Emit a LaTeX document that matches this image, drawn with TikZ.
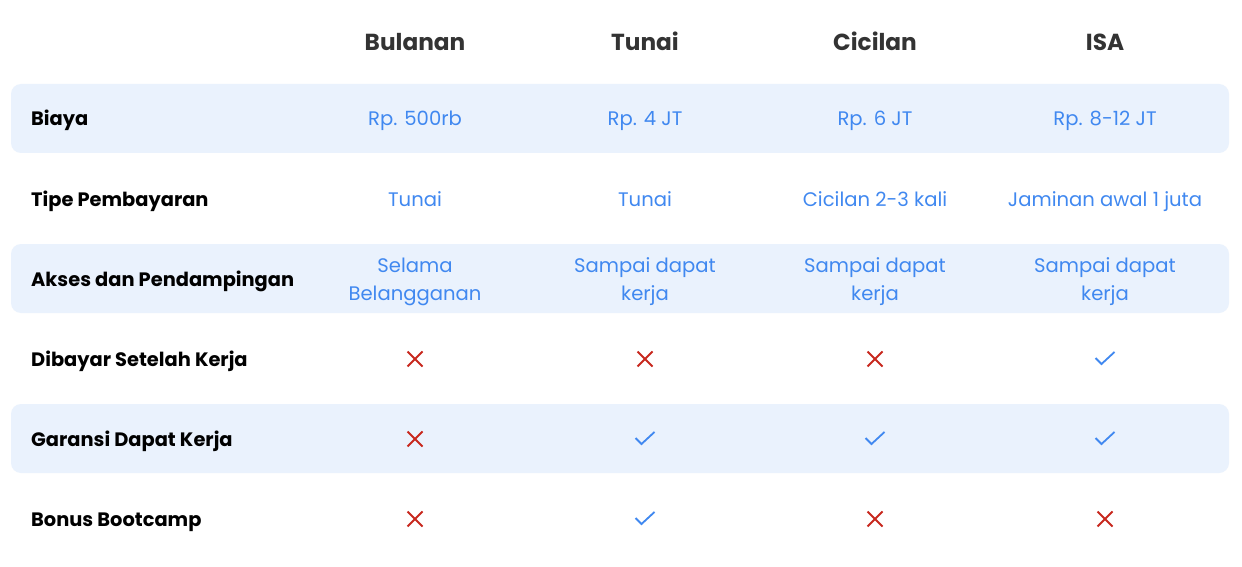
\documentclass[tikz,border=0pt]{standalone}
\usepackage{fontspec}
\setmainfont{Poppins}
\definecolor{rowbg}{HTML}{EAF2FD}
\definecolor{valblue}{HTML}{4088F0}
\definecolor{hdrgray}{HTML}{333333}
\definecolor{xred}{HTML}{C8281E}
\begin{document}
\begin{tikzpicture}[x=1pt,y=-1pt,
  band/.style={fill=rowbg,draw=none,rounded corners=10pt},
  hdr/.style={font=\fontsize{23.2}{26}\selectfont\bfseries,text=hdrgray,anchor=base,inner sep=0},
  lbl/.style={font=\fontsize{19.4}{22}\selectfont\bfseries,text=black,anchor=base west,inner sep=0},
  val/.style={font=\fontsize{19.6}{28}\selectfont,text=valblue,anchor=base,inner sep=0,align=center},
  xmark/.style={draw=xred,line width=1.8pt},
  cmark/.style={draw=valblue,line width=1.8pt}]
\useasboundingbox (0,0) rectangle (1242,567);
\fill[white] (0,0) rectangle (1242,567);
% bands
\path[band] (11,84) rectangle (1229,153);
\path[band] (11,244) rectangle (1229,313);
\path[band] (11,404) rectangle (1229,473);
% header
\node[hdr] (h1) at (415,51) {Bulanan};
\node[hdr] (h2) at (645,51) {Tunai};
\node[hdr] (h3) at (875,51) {Cicilan};
\node[hdr] (h4) at (1105,51) {ISA};
% labels
\node[lbl] (l1) at (31,126) {Biaya};
\node[lbl] (l2) at (31,206) {Tipe Pembayaran};
\node[lbl] (l3) at (31,286) {Akses dan Pendampingan};
\node[lbl] (l4) at (31,366) {Dibayar Setelah Kerja};
\node[lbl] (l5) at (31,446) {Garansi Dapat Kerja};
\node[lbl] (l6) at (31,526) {Bonus Bootcamp};
% values row 1
\node[val] (v11) at (415,126) {Rp. 500rb};
\node[val] (v12) at (645,126) {Rp. 4 JT};
\node[val] (v13) at (875,126) {Rp. 6 JT};
\node[val] (v14) at (1105,126) {Rp. 8-12 JT};
% row 2
\node[val] (v21) at (415,206) {Tunai};
\node[val] (v22) at (645,206) {Tunai};
\node[val] (v23) at (875,206) {Cicilan 2-3 kali};
\node[val] (v24) at (1105,206) {Jaminan awal 1 juta};
% row 3 (base = last line)
\node[val] (v31) at (415,300) {Selama\\Belangganan};
\node[val] (v32) at (645,300) {Sampai dapat\\kerja};
\node[val] (v33) at (875,300) {Sampai dapat\\kerja};
\node[val] (v34) at (1105,300) {Sampai dapat\\kerja};
% marks
\newcommand{\xm}[2]{\draw[xmark] (#1-7.5,#2-7.5) -- (#1+7.5,#2+7.5) (#1-7.5,#2+7.5) -- (#1+7.5,#2-7.5);}
\newcommand{\cm}[2]{\draw[cmark] (#1-9.5,#2-1) -- (#1-3.5,#2+5) -- (#1+9.5,#2-7);}
\xm{415}{359} \xm{645}{359} \xm{875}{359} \cm{1105}{359}
\xm{415}{439} \cm{645}{439} \cm{875}{439} \cm{1105}{439}
\xm{415}{519} \cm{645}{519} \xm{875}{519} \xm{1105}{519}
\end{tikzpicture}
\end{document}
